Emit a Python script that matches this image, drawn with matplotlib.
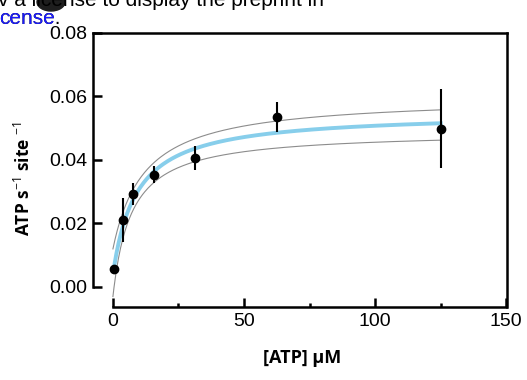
import numpy as np
import matplotlib.pyplot as plt
from matplotlib.patches import Ellipse
from matplotlib.ticker import MultipleLocator

plt.rcParams['mathtext.fontset'] = 'custom'
plt.rcParams['mathtext.rm'] = 'Open Sans'
plt.rcParams['mathtext.bf'] = 'Open Sans:bold'

# measured rates
atp_um = [0.5, 3.9, 7.8, 15.6, 31.25, 62.5, 125]
rate = [0.0056, 0.0211, 0.0293, 0.0353, 0.0406, 0.0536, 0.0499]
rate_err = [0.0010, 0.0068, 0.0034, 0.0027, 0.0037, 0.0048, 0.0124]

# hyperbolic fit (offset, Vmax, Km) and its confidence band
fit_best = (0.004, 0.051, 9.0)
fit_upper = (0.012, 0.048, 12.0)
fit_lower = (-0.003, 0.052, 7.0)

xticks = [0, 50, 100, 150]
yticks = [0.00, 0.02, 0.04, 0.06, 0.08]

W, H = 527, 380


def hyperbola(s, params):
    c, vmax, km = params
    return c + vmax * s / (km + s)


fig = plt.figure(figsize=(W / 100, H / 100), dpi=100)
ax = fig.add_axes([93 / W, 1 - 307 / H, (507 - 93) / W, (307 - 33) / H])

s_band = np.linspace(0, max(atp_um), 300)
s_fit = np.linspace(min(atp_um), max(atp_um), 300)
ax.plot(s_band, hyperbola(s_band, fit_upper), color='#8c8c8c', lw=0.8)
ax.plot(s_band, hyperbola(s_band, fit_lower), color='#8c8c8c', lw=0.8)
ax.plot(s_fit, hyperbola(s_fit, fit_best), color='#87ceeb', lw=2.8)
ax.errorbar(atp_um, rate, yerr=rate_err, fmt='o', color='black', ms=6,
            elinewidth=1.5, capsize=0, zorder=5)

ax.set_xlim(-7.6, 150.3)
ax.set_ylim(-0.0063, 0.08)
for side in ['left', 'bottom', 'top', 'right']:
    ax.spines[side].set_linewidth(1.8)
ax.spines['left'].set_bounds(0, 0.08)
ax.spines['bottom'].set_bounds(0, 150)

ax.set_xticks(xticks)
ax.xaxis.set_minor_locator(MultipleLocator(25))
ax.set_yticks(yticks)
ax.set_yticklabels([f'{v:.2f}' for v in yticks])
ax.tick_params(axis='both', which='major', direction='in', length=6.5,
               width=1.8, labelsize=14, pad=4)
ax.tick_params(axis='x', which='minor', direction='in', length=3, width=1.8)
for lab in ax.get_xticklabels() + ax.get_yticklabels():
    lab.set_family('Liberation Sans')

ax.set_xlabel('[ATP] µM', fontsize=13, fontweight='bold', family='Open Sans')
ax.xaxis.set_label_coords(0.505, -0.155)
ax.set_ylabel(r'ATP s$^{-1}$ site $^{-1}$', fontsize=12.5,
              fontweight='bold', family='Open Sans')
ax.yaxis.set_label_coords(-0.145, 0.47)

# clipped preprint text in the corner
fig.text(-2 / W, 1 - 6 / H, 'v a license to display the preprint in',
         fontsize=15, family='Liberation Sans', va='baseline')
fig.text(-1 / W, 1 - 24 / H, 'cense.', fontsize=15,
         family='Liberation Sans', va='baseline', color='black')
fig.text(-1 / W, 1 - 24 / H, 'cense', fontsize=15,
         family='Liberation Sans', va='baseline', color='#1a1aff')
fig.patches.append(Ellipse((51 / W, 1 - 2 / H), 28 / W, 18 / H,
                           transform=fig.transFigure, color='#1e1e1e'))

fig.savefig('out.png', dpi=100)
